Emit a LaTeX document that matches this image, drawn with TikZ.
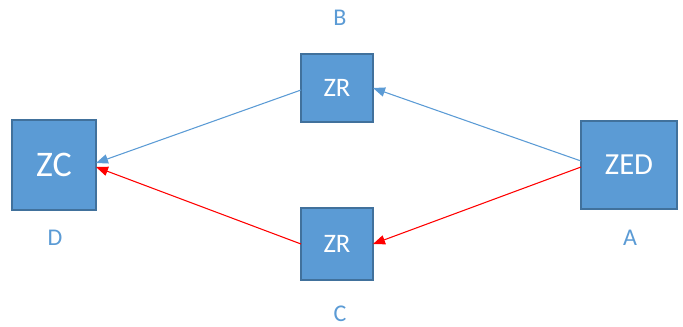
\documentclass[tikz,border=0pt]{standalone}
\usepackage{fontspec}
\setmainfont{Carlito}
\usetikzlibrary{arrows.meta}
\definecolor{boxfill}{HTML}{5B9BD5}
\definecolor{boxline}{HTML}{41719C}
\definecolor{labcol}{HTML}{5B9BD5}
\definecolor{bluearrow}{HTML}{5B9BD5}
\definecolor{redarrow}{HTML}{FF0000}
\begin{document}
\begin{tikzpicture}[x=0.75pt,y=-0.75pt,
  boxnode/.style={draw=boxline,line width=1.8pt,fill=boxfill,text=white,inner sep=0pt,outer sep=0pt},
  labnode/.style={text=labcol,font=\fontsize{18}{21}\selectfont},
  bluecon/.style={draw=bluearrow,line width=0.8pt,-{Triangle[length=9pt,width=7pt]}},
  redcon/.style={draw=redarrow,line width=0.8pt,-{Triangle[length=9pt,width=7pt]}}]
\useasboundingbox (0,0) rectangle (683,326);
\node[boxnode,minimum width=63pt,minimum height=67.5pt,font=\fontsize{27}{30}\selectfont] (zc) at (54,165) {ZC};
\node[boxnode,minimum width=54pt,minimum height=51pt,font=\fontsize{20}{24}\selectfont] (zrb) at (337,88) {ZR};
\node[boxnode,minimum width=54pt,minimum height=54pt,font=\fontsize{20}{24}\selectfont] (zrc) at (337,244) {ZR};
\node[boxnode,minimum width=72pt,minimum height=66pt,font=\fontsize{23}{27}\selectfont] (zed) at (629,165) {ZED};
\node[labnode] (lb) at (340,18) {B};
\node[labnode] (lc) at (340,314) {C};
\node[labnode] (ld) at (55,238) {D};
\node[labnode] (la) at (630,238) {A};
\coordinate (zedb) at ([yshift=3pt]zed.west);
\coordinate (zedr) at ([yshift=-1.5pt]zed.west);
\draw[bluecon] (zedb) -- ([yshift=0pt]zrb.east);
\draw[redcon] (zedr) -- ([yshift=0pt]zrc.east);
\draw[bluecon] ([yshift=-1.5pt]zrb.west) -- ([yshift=1.5pt]zc.east);
\draw[redcon] (zrc.west) -- ([yshift=-1.5pt]zc.east);
\end{tikzpicture}
\end{document}
